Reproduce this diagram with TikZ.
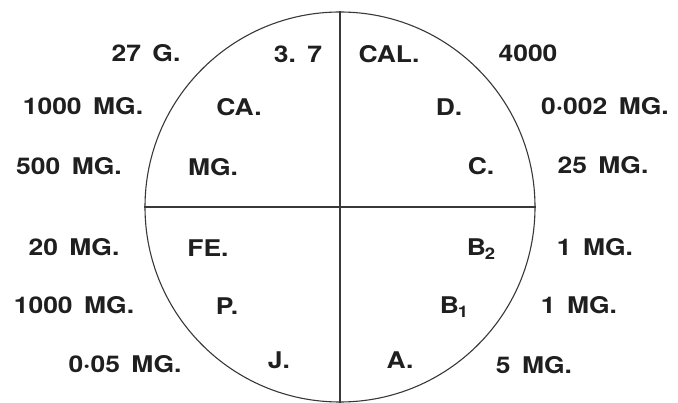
\documentclass[tikz,border=0pt]{standalone}
\usepackage{fontspec}
\usepackage{graphicx}
\setmainfont{TeX Gyre Heros}
\newcommand\widetxt[1]{\scalebox{1.15}[1]{#1}}
\newcommand\gapsp{\hspace{10pt}}
\newcommand\subdig[1]{\hspace{-1pt}\raisebox{-4pt}{\fontsize{16}{16}\selectfont #1}}
\begin{document}
\begin{tikzpicture}[x=1pt,y=-1pt,
  lbl/.style={inner sep=0pt,font=\fontsize{23}{23}\selectfont\bfseries,text=black!88},
  rim/.style={line width=1.1pt,draw=black!78}]
\useasboundingbox (0,0) rectangle (678,403);
\node[circle,rim,minimum size=390pt,inner sep=0pt] (ring) at (340,207) {};
\draw[rim] (ring.north) -- (ring.south);
\draw[rim] (ring.west) -- (ring.east);
% row 1
\node[lbl] (g27) at (146,53) {\widetxt{27\gapsp G.}};
\node[lbl] (v37) at (298,54) {\widetxt{3.\gapsp7}};
\node[lbl] (cal) at (389,54) {\widetxt{CAL.}};
\node[lbl] (v4000) at (528,53) {\widetxt{4000}};
% row 2
\node[lbl] (mg1000a) at (83,106) {\widetxt{1000\gapsp MG.}};
\node[lbl] (ca) at (239,107) {\widetxt{CA.}};
\node[lbl] (d) at (449,107) {\widetxt{D.}};
\node[lbl] (mg0002) at (605,106) {\widetxt{0·002\gapsp MG.}};
% row 3
\node[lbl] (mg500) at (69,166) {\widetxt{500\gapsp MG.}};
\node[lbl] (mg) at (213,167) {\widetxt{MG.}};
\node[lbl] (c) at (481,166) {\widetxt{C.}};
\node[lbl] (mg25) at (603,165) {\widetxt{25\gapsp MG.}};
% row 4
\node[lbl] (mg20) at (74,247) {\widetxt{20\gapsp MG.}};
\node[lbl] (fe) at (208,248) {\widetxt{FE.}};
\node[lbl] (b2) at (481,249) {\widetxt{B\subdig{2}}};
\node[lbl] (mg1a) at (595,247) {\widetxt{1\gapsp MG.}};
% row 5
\node[lbl] (mg1000b) at (74,305) {\widetxt{1000\gapsp MG.}};
\node[lbl] (p) at (227,306) {\widetxt{P.}};
\node[lbl] (b1) at (454,307) {\widetxt{B\subdig{1}}};
\node[lbl] (mg1b) at (579,305) {\widetxt{1\gapsp MG.}};
% row 6
\node[lbl] (mg005) at (125,364) {\widetxt{0·05\gapsp MG.}};
\node[lbl] (j) at (279,360) {\widetxt{J.}};
\node[lbl] (a) at (400,360) {\widetxt{A.}};
\node[lbl] (mg5) at (534,365) {\widetxt{5\gapsp MG.}};
\end{tikzpicture}
\end{document}
